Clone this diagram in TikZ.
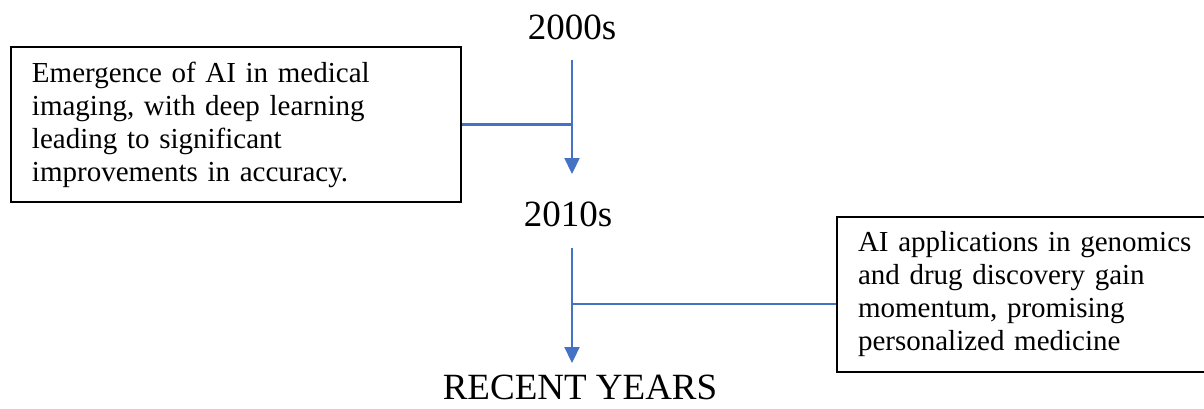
\documentclass[tikz,border=0pt]{standalone}
\usepackage{fontspec}
\setmainfont{Liberation Serif}
\usetikzlibrary{arrows.meta}

\definecolor{lineblue}{HTML}{4472C4}

\tikzset{
  yearlabel/.style={inner sep=0pt, anchor=base, font=\fontsize{18.5}{22}\selectfont},
  eventbox/.style={draw, line width=1pt, align=left, inner xsep=10.5pt, inner ysep=0pt,
    minimum height=77.5pt, font=\fontsize{14.5}{16.5}\selectfont},
  timeline/.style={lineblue, line width=1.1pt, -{Triangle[width=7.5pt,length=8pt]}},
  link/.style={lineblue, line width=1.1pt}
}

\begin{document}
\begin{tikzpicture}[x=0.5pt, y=-0.5pt]

\useasboundingbox (0,0) rectangle (1204,408);

 \node[yearlabel] (y2000) at (572,39) {2000s};
 \node[yearlabel] (y2010) at (568,226) {2010s};
 \node[yearlabel] (recent) at (580,399) {RECENT YEARS};

 \node[eventbox, text width=204pt] (imaging) at (236,124.5)
   {Emergence of AI in medical\\ imaging, with deep learning\\ leading to significant\\ improvements in accuracy.};
 \node[eventbox, text width=172pt, anchor=west] (genomics) at (836,294)
   {AI applications in genomics\\ and drug discovery gain\\ momentum, promising\\ personalized medicine};

\coordinate (top1) at (572,60);
\coordinate (tip1) at (572,174);
\coordinate (top2) at (572,248);
\coordinate (tip2) at (572,363);
\coordinate (join2) at (572,304);

\draw [timeline] (top1) -- (tip1);
\draw [link] (imaging.east) -- (imaging.east -| top1);

\draw [timeline] (top2) -- (tip2);
\draw [link] (join2) -- (join2 -| genomics.west);

\end{tikzpicture}
\end{document}
